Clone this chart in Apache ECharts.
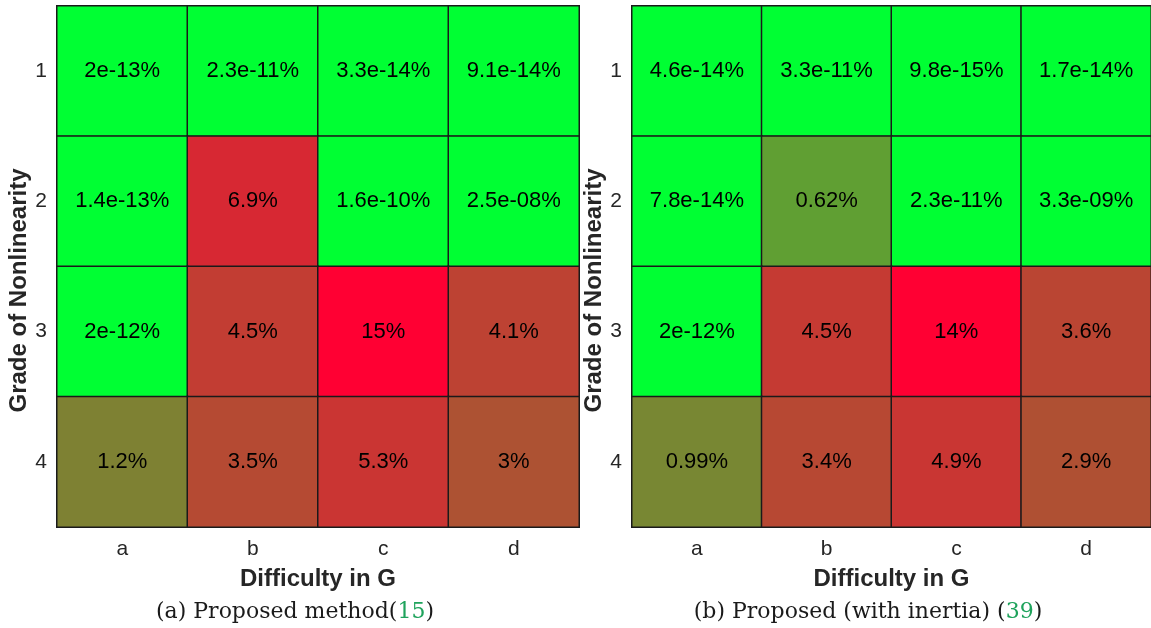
<!DOCTYPE html>
<html>
<head>
<meta charset="utf-8">
<script src="https://cdn.jsdelivr.net/npm/echarts@6/dist/echarts.min.js"></script>
<style>
html,body{margin:0;padding:0;background:#fff;}
#c{width:1151px;height:628px;}
</style>
</head>
<body>
<div id="c"></div>
<script>
// ---- data ----
var xCategories = ['a', 'b', 'c', 'd'];
var yCategories = ['1', '2', '3', '4'];
// rows = grade 1..4, cols = a..d (values in %)
var leftValues = [
  [2e-13, 2.3e-11, 3.3e-14, 9.1e-14],
  [1.4e-13, 6.9, 1.6e-10, 2.5e-8],
  [2e-12, 4.5, 15, 4.1],
  [1.2, 3.5, 5.3, 3]
];
var rightValues = [
  [4.6e-14, 3.3e-11, 9.8e-15, 1.7e-14],
  [7.8e-14, 0.62, 2.3e-11, 3.3e-9],
  [2e-12, 4.5, 14, 3.6],
  [0.99, 3.4, 4.9, 2.9]
];
var xAxisName = 'Difficulty in G';
var yAxisName = 'Grade of Nonlinearity';

function fmt(v) {
  if (v < 1e-4) {
    var s = v.toExponential(1).replace('.0e', 'e');
    s = s.replace(/e([+-])(\d)$/, 'e$10$2');
    return s + '%';
  }
  return String(Number(v.toPrecision(2))) + '%';
}
function colorFor(v, max) {
  var t = 1 + 0.2 * Math.log(v / max);
  t = Math.max(0, Math.min(1, t));
  var r = Math.round(255 * t), g = Math.round(255 * (1 - t));
  return 'rgb(' + r + ',' + g + ',51)';
}
function buildData(vals) {
  var max = 0;
  vals.forEach(function (row) { row.forEach(function (v) { if (v > max) max = v; }); });
  var out = [];
  vals.forEach(function (row, yi) {
    row.forEach(function (v, xi) {
      out.push({ value: [xi, yi, v], itemStyle: { color: colorFor(v, max) } });
    });
  });
  return out;
}

var sans = "'Liberation Sans', Arial, Helvetica, sans-serif";
var serif = "'DejaVu Serif', 'Liberation Serif', serif";
var grids = [
  { left: 57, top: 6, width: 522, height: 521 },
  { left: 632, top: 6, width: 522, height: 521 }
];
var xAxes = [], yAxes = [], series = [];
[leftValues, rightValues].forEach(function (vals, i) {
  xAxes.push({
    type: 'category', gridIndex: i, data: xCategories, position: 'bottom',
    axisLine: { show: false }, axisTick: { show: false }, splitArea: { show: false },
    axisLabel: { color: '#262626', fontSize: 21, fontFamily: sans, margin: 12 },
    name: xAxisName, nameLocation: 'middle', nameGap: 40,
    nameTextStyle: { color: '#262626', fontSize: 24, fontWeight: 'bold', fontFamily: sans }
  });
  yAxes.push({
    type: 'category', gridIndex: i, data: yCategories, inverse: true,
    axisLine: { show: false }, axisTick: { show: false },
    axisLabel: { color: '#262626', fontSize: 21, fontFamily: sans, margin: 10 },
    name: yAxisName, nameLocation: 'middle', nameGap: 26, nameRotate: 90,
    nameTextStyle: { color: '#262626', fontSize: 24, fontWeight: 'bold', fontFamily: sans, padding: [0, 48, 0, 0] }
  });
  series.push({
    type: 'heatmap', xAxisIndex: i, yAxisIndex: i,
    data: buildData(vals),
    itemStyle: { borderColor: '#1a1a1a', borderWidth: 1.5 },
    label: {
      show: true, color: '#000', fontSize: 22, fontFamily: sans,
      formatter: function (p) { return fmt(p.value[2]); }
    },
    emphasis: { disabled: true }
  });
});

var capRich = {
  a: { fontFamily: serif, fontSize: 22, fill: '#1a1a1a' },
  g: { fontFamily: serif, fontSize: 22, fill: '#1fa35c' }
};

var chart = echarts.init(document.getElementById('c'));
chart.setOption({
  animation: false,
  grid: grids.map(function (g) {
    return Object.assign({ show: true, borderColor: '#1a1a1a', borderWidth: 2, backgroundColor: 'transparent' }, g);
  }),
  xAxis: xAxes,
  yAxis: yAxes,
  series: series,
  graphic: [
    { type: 'text', x: 295, y: 612,
      style: { text: '{a|(a) Proposed method(}{g|15}{a|)}', rich: capRich, align: 'center', verticalAlign: 'middle' } },
    { type: 'text', x: 868, y: 612,
      style: { text: '{a|(b) Proposed (with inertia) (}{g|39}{a|)}', rich: capRich, align: 'center', verticalAlign: 'middle' } }
  ]
});
</script>
</body>
</html>
